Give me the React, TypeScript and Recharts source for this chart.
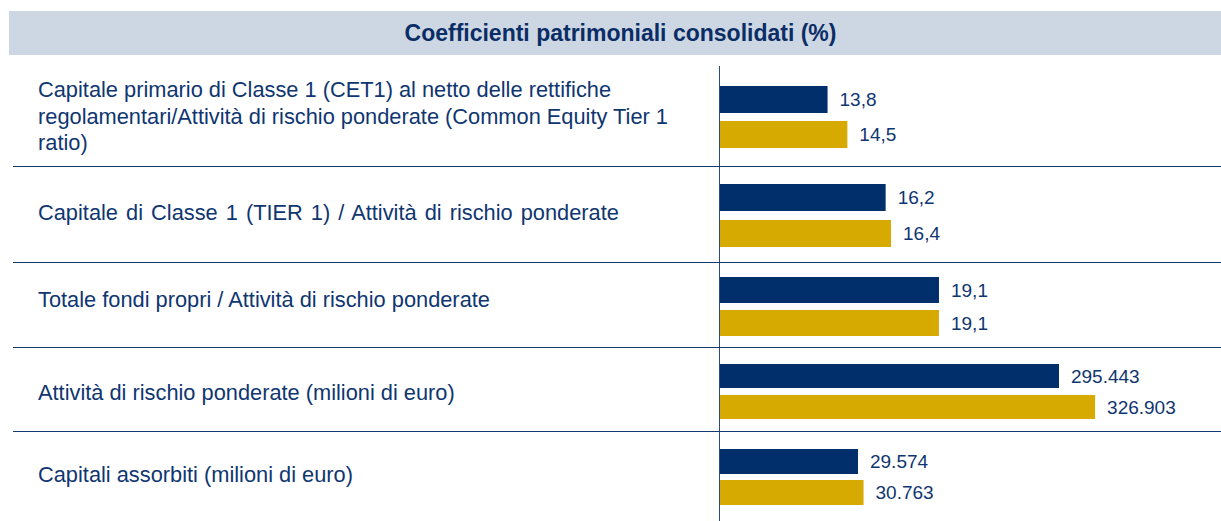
import { BarChart, Bar, XAxis, YAxis, LabelList } from 'recharts';

const categories = [
  'Capitale primario di Classe 1 (CET1) al netto delle rettifiche\nregolamentari/Attività di rischio ponderate (Common Equity Tier 1\nratio)',
  'Capitale di Classe 1 (TIER 1) / Attività di rischio ponderate',
  'Totale fondi propri / Attività di rischio ponderate',
  'Attività di rischio ponderate (milioni di euro)',
  'Capitali assorbiti (milioni di euro)',
];
const serieBlu = [13.8, 16.2, 19.1, 295443, 29574];
const serieOro = [14.5, 16.4, 19.1, 326903, 30763];
// each row of the original has its own scale
const axisDomains: [number, number][] = [
  [10, 27.7],
  [10, 28.75],
  [0, 43.7],
  [0, 436640],
  [0, 107370],
];

// row geometry: row box, top of the first bar, bar thickness, gap, label shift, word spacing
const rowLayout = [
  { top: 56, bottom: 166, barTop: 86, size: 27, gap: 8, dy: -1, ws: 0 },
  { top: 166, bottom: 262, barTop: 184, size: 27, gap: 9, dy: -3, ws: 2 },
  { top: 262, bottom: 347, barTop: 277, size: 26, gap: 7, dy: -7.5, ws: 0 },
  { top: 347, bottom: 431, barTop: 364, size: 24, gap: 7, dy: 1, ws: 0 },
  { top: 431, bottom: 521, barTop: 449, size: 25, gap: 6, dy: -3, ws: 0 },
];

const NAVY = '#002f6c';
const GOLD = '#d6aa00';
const TEXT = '#0f3670';
const FONT = '"Liberation Sans", Arial, sans-serif';

const fmt = (v: any) => {
  const n = Number(v);
  if (Number.isInteger(n) && n >= 1000) {
    return String(n).replace(/\B(?=(\d{3})+(?!\d))/g, '.');
  }
  return String(n).replace('.', ',');
};

const RowLabel = ({ y, payload, dy, ws }: any) => {
  const lines = String(payload.value).split('\n');
  const lh = 26.5;
  const first = y + dy - ((lines.length - 1) / 2) * lh + 7.8;
  return (
    <text x={38} y={first} fill={TEXT} fontSize={21.8} fontFamily={FONT} style={{ wordSpacing: ws }}>
      {lines.map((l, i) => (
        <tspan key={i} x={38} y={first + i * lh}>
          {l}
        </tspan>
      ))}
    </text>
  );
};

export default function App() {
  return (
    <div style={{ position: 'absolute', left: 0, top: 0, width: 1221, height: 521, background: '#fff', fontFamily: FONT }}>
      <div
        style={{
          position: 'absolute',
          left: 9,
          top: 11,
          width: 1212,
          height: 44,
          background: '#cdd7e3',
          color: '#0b2d66',
          fontWeight: 'bold',
          fontSize: 23,
          lineHeight: '44px',
          textAlign: 'center',
          paddingLeft: 11,
          boxSizing: 'border-box',
        }}
      >
        Coefficienti patrimoniali consolidati (%)
      </div>

      <div style={{ position: 'absolute', left: 719, top: 66, width: 1, height: 455, background: '#2a4a80' }} />
      {[166, 262, 347, 431].map((y) => (
        <div key={y} style={{ position: 'absolute', left: 13, top: y, width: 1208, height: 1, background: '#15386f' }} />
      ))}

      {categories.map((cat, i) => {
        const r = rowLayout[i];
        const data = [{ label: cat, blu: serieBlu[i], oro: serieOro[i] }];
        // keep the band 2px wider than the bar pair so Recharts keeps the gap
        const mt = r.barTop - r.top - 1;
        const mb = r.bottom - (r.barTop + 2 * r.size + r.gap) - 1;
        return (
          <div key={i} style={{ position: 'absolute', left: 0, top: r.top }}>
            <BarChart
              width={1221}
              height={r.bottom - r.top}
              data={data}
              layout="vertical"
              barGap={r.gap}
              barCategoryGap={0}
              margin={{ top: mt, bottom: mb, left: 0, right: 0 }}
              style={{ overflow: 'visible' }}
            >
              <XAxis type="number" domain={axisDomains[i]} hide allowDataOverflow />
              <YAxis
                type="category"
                dataKey="label"
                width={720}
                axisLine={false}
                tickLine={false}
                tick={<RowLabel dy={r.dy} ws={r.ws} />}
              />
              <Bar dataKey="blu" fill={NAVY} barSize={r.size} isAnimationActive={false}>
                <LabelList dataKey="blu" position="right" offset={12} formatter={fmt} fill={TEXT} fontSize={19} fontFamily={FONT} />
              </Bar>
              <Bar dataKey="oro" fill={GOLD} barSize={r.size} isAnimationActive={false}>
                <LabelList dataKey="oro" position="right" offset={12} formatter={fmt} fill={TEXT} fontSize={19} fontFamily={FONT} />
              </Bar>
            </BarChart>
          </div>
        );
      })}
    </div>
  );
}
